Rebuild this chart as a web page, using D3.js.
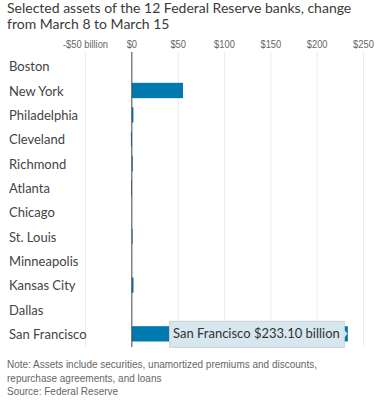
<!DOCTYPE html>
<html>
<head>
<meta charset="utf-8">
<script src="https://cdn.jsdelivr.net/npm/d3@7"></script>
<style>
  body { margin: 0; background: #fff; }
  svg { display: block; }
</style>
</head>
<body>
<svg width="376" height="401"></svg>
<script>
// data
var banks = ["Boston", "New York", "Philadelphia", "Cleveland", "Richmond", "Atlanta",
             "Chicago", "St. Louis", "Minneapolis", "Kansas City", "Dallas", "San Francisco"];
var changes = [0.05, 55.2, 1.7, -1.0, 1.0, -0.8, 0.05, 0.8, 0.05, 1.8, 0.05, 233.1];
var tickValues = [-50, 0, 50, 100, 150, 200, 250];
var titleLines = ["Selected assets of the 12 Federal Reserve banks, change",
                  "from March 8 to March 15"];
var noteLines = ["Note: Assets include securities, unamortized premiums and discounts,",
                 "repurchase agreements, and loans",
                 "Source: Federal Reserve"];
var hoverIndex = 11;

var svg = d3.select("svg");
var narrow = "'Liberation Sans', Arial, sans-serif";
var body = "Lato, 'Open Sans', sans-serif";

// title
svg.append("g").selectAll("text")
  .data(titleLines).enter()
  .append("text")
    .attr("x", 7)
    .attr("y", function(d, i) { return 12.5 + i * 16; })
    .style("font-family", body)
    .style("font-size", "14px")
    .style("fill", "#3a3a3a")
    .text(function(d) { return d; });

var x = d3.scaleLinear()
  .domain([-50, 250])
  .range([85.5, 363.5]);

var y = d3.scaleBand()
  .domain(banks)
  .range([54, 346])
  .paddingInner(0.37)
  .paddingOuter(0.185);

// grid
svg.append("g").selectAll("line")
  .data(tickValues.filter(function(d) { return d != 0; })).enter()
  .append("line")
    .attr("x1", function(d) { return x(d); })
    .attr("x2", function(d) { return x(d); })
    .attr("y1", 52)
    .attr("y2", 347)
    .style("stroke", "#ececec")
    .style("stroke-width", 1);

// tick labels (squeezed to look like a condensed face)
svg.append("g").selectAll("text")
  .data(tickValues).enter()
  .append("text")
    .attr("transform", function(d) { return "translate(" + x(d) + ",48) scale(0.85,1)"; })
    .attr("text-anchor", "middle")
    .style("font-family", narrow)
    .style("font-size", "11px")
    .style("fill", "#666")
    .text(function(d) {
      var s = (d < 0 ? "-$" : "$") + Math.abs(d);
      return d == -50 ? s + " billion" : s;
    });

// category labels
svg.append("g").selectAll("text")
  .data(banks).enter()
  .append("text")
    .attr("x", 9)
    .attr("y", function(d) { return y(d) + y.bandwidth() / 2 + 5; })
    .style("font-family", body)
    .style("font-size", "13px")
    .style("fill", "#444")
    .text(function(d) { return d; });

// bars
svg.append("g").selectAll("rect")
  .data(changes).enter()
  .append("rect")
    .attr("x", function(d) { return x(Math.min(0, d)); })
    .attr("y", function(d, i) { return y(banks[i]); })
    .attr("width", function(d) { return Math.abs(x(d) - x(0)); })
    .attr("height", y.bandwidth())
    .style("fill", "#0079ae");

// zero line
svg.append("line")
  .attr("x1", x(0)).attr("x2", x(0))
  .attr("y1", 52).attr("y2", 347)
  .style("stroke", "#444")
  .style("stroke-width", 1);

// tooltip on San Francisco
var tip = svg.append("g");
var tipText = tip.append("text")
  .style("font-family", body)
  .style("font-size", "13px")
  .style("fill", "#333")
  .text(banks[hoverIndex] + " $" + changes[hoverIndex].toFixed(2) + " billion");
var tw = tipText.node().getComputedTextLength();
var tipRight = x(changes[hoverIndex]) - 4;
var tipLeft = tipRight - tw - 8;
var cy = y(banks[hoverIndex]) + y.bandwidth() / 2;
tip.insert("rect", "text")
  .attr("x", tipLeft + 0.5)
  .attr("y", cy - 12.5)
  .attr("width", tw + 8)
  .attr("height", 26)
  .style("fill", "#d6e7f0")
  .style("stroke", "#d0d0d0");
tip.insert("path", "text")
  .attr("d", "M" + (tipRight + 0.5) + "," + (cy - 4) + "L" + (tipRight + 3.5) + "," + cy + "L" + (tipRight + 0.5) + "," + (cy + 4) + "Z")
  .style("fill", "#d6e7f0");
tipText.attr("x", tipLeft + 4).attr("y", cy + 4);

// notes (squeezed like the tick labels)
svg.append("g")
    .attr("transform", "translate(7,0) scale(0.87,1)")
  .selectAll("text")
  .data(noteLines).enter()
  .append("text")
    .attr("x", 0)
    .attr("y", function(d, i) { return 368.5 + i * 13.5; })
    .style("font-family", narrow)
    .style("font-size", "11.5px")
    .style("fill", "#666")
    .text(function(d) { return d; });
</script>
</body>
</html>
